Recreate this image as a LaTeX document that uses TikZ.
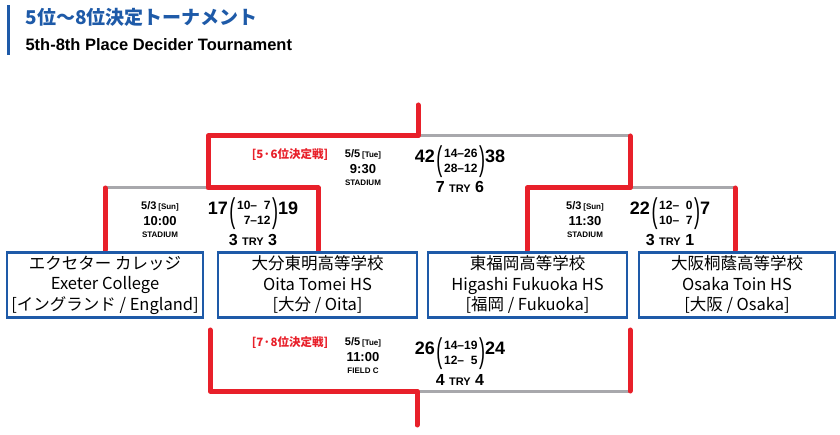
\documentclass[tikz,border=0pt]{standalone}
\usepackage{fontspec}
\setmainfont{Liberation Sans}
\newfontfamily\jp{Noto Sans CJK JP}
\definecolor{tblue}{HTML}{1E5AA8}
\definecolor{tred}{HTML}{E8202A}
\definecolor{tgray}{HTML}{A8A8AC}
\newcommand{\scr}[4]{{\fontsize{18}{18}\selectfont\bfseries #1}\,\raisebox{-0.35\height}{\scalebox{1}[1.9]{\fontsize{18}{18}\selectfont (}}\,\raisebox{-0.5ex}{\fontsize{12}{15}\selectfont\bfseries\begin{tabular}{@{}c@{}}#2\\#3\end{tabular}}\,\raisebox{-0.35\height}{\scalebox{1}[1.9]{\fontsize{18}{18}\selectfont )}}{\fontsize{18}{18}\selectfont\bfseries #4}}
\begin{document}
\begin{tikzpicture}[x=1pt,y=-1pt,
  team/.style={draw=tblue,line width=2.6pt,fill=white,minimum width=196pt,minimum height=65pt,inner sep=0pt,align=center,font=\jp\fontsize{16.5}{20.5}\selectfont},
  win/.style={draw=tred,line width=5pt,line cap=round,line join=round},
  lose/.style={draw=tgray,line width=3pt},
  small/.style={font=\bfseries\fontsize{11}{11}\selectfont},
  tm/.style={font=\bfseries\fontsize{13}{13}\selectfont},
  tiny/.style={font=\bfseries\fontsize{8}{9}\selectfont},
  tr/.style={font=\bfseries\fontsize{16}{17}\selectfont},
  lab/.style={text=tred,font=\jp\bfseries\fontsize{11.5}{12}\selectfont}]
\useasboundingbox (0,0) rectangle (840,435);
\fill[tblue] (7,5) rectangle (10,55);
\node[anchor=west,text=tblue,font=\jp\bfseries\fontsize{19}{21}\selectfont] (t1) at (22,17) {5位〜8位決定トーナメント};
\node[anchor=west,font=\bfseries\fontsize{16.5}{18}\selectfont] (t2) at (22,45) {5th-8th Place Decider Tournament};
% connectors
\coordinate (c1) at (105,188); \coordinate (c2) at (208,188); \coordinate (c3) at (318,188);
\coordinate (c4) at (208,136); \coordinate (c5) at (418,136); \coordinate (c6) at (418,105);
\coordinate (c7) at (630,136); \coordinate (c8) at (630,188); \coordinate (c9) at (527,188);
\coordinate (c10) at (735,188);
\coordinate (d1) at (210,330); \coordinate (d2) at (210,391); \coordinate (d3) at (417,391);
\coordinate (d4) at (417,425); \coordinate (d5) at (630,391); \coordinate (d6) at (630,330);
\draw[lose] (c1) -- (c2); \draw[lose] (c5) -- (c7); \draw[lose] (c8) -- (c10); \draw[lose] (d3) -- (d5);
\draw[win] (c1) -- (105,250);
\draw[win] (318,250) -- (c3) -- (c2) -- (c4) -- (c5) -- (c6);
\draw[win] (527,250) -- (c9) -- (c8) -- (c7);
\draw[win] (c10) -- (735,250);
\draw[win] (d1) -- (d2) -- (d3) -- (d4);
\draw[win] (d6) -- (d5);
% teams
\node[team] (a) at (105,285) {エクセター カレッジ\\Exeter College\\{}[イングランド / England]};
\node[team,minimum width=199pt] (b) at (317.5,285) {大分東明高等学校\\Oita Tomei HS\\{}[大分 / Oita]};
\node[team,minimum width=199pt] (c) at (527.5,285) {東福岡高等学校\\Higashi Fukuoka HS\\{}[福岡 / Fukuoka]};
\node[team] (d) at (737,285) {大阪桐蔭高等学校\\Osaka Toin HS\\{}[大阪 / Osaka]};
% 5-6
\node[lab] (l56) at (290,155) {[5·6位決定戦]};
\node[small] (m1) at (363,154) {5/5\,{\fontsize{8}{9}\selectfont[Tue]}};
\node[tm] (h1) at (363,169) {9:30};
\node[tiny] (s1) at (363,183) {STADIUM};
\node (r1) at (460,162) {\scr{42}{14–26}{28–12}{38}};
\node[tr] (y1) at (460,187) {7 {\fontsize{11}{12}\selectfont TRY} 6};
% left
\node[small] (m2) at (160,206) {5/3\,{\fontsize{8}{9}\selectfont[Sun]}};
\node[tm] (h2) at (160,221) {10:00};
\node[tiny] (s2) at (160,235) {STADIUM};
\node (r2) at (253,214) {\scr{17}{10–\phantom{0}7}{\phantom{0}7–12}{19}};
\node[tr] (y2) at (253,240) {3 {\fontsize{11}{12}\selectfont TRY} 3};
% right
\node[small] (m3) at (585,206) {5/3\,{\fontsize{8}{9}\selectfont[Sun]}};
\node[tm] (h3) at (585,221) {11:30};
\node[tiny] (s3) at (585,235) {STADIUM};
\node (r3) at (670,214) {\scr{22}{12–\phantom{0}0}{10–\phantom{0}7}{7}};
\node[tr] (y3) at (670,240) {3 {\fontsize{11}{12}\selectfont TRY} 1};
% 7-8
\node[lab] (l78) at (290,343) {[7·8位決定戦]};
\node[small] (m4) at (363,342) {5/5\,{\fontsize{8}{9}\selectfont[Tue]}};
\node[tm] (h4) at (363,357) {11:00};
\node[tiny] (s4) at (363,371) {FIELD C};
\node (r4) at (460,354) {\scr{26}{14–19}{12–\phantom{0}5}{24}};
\node[tr] (y4) at (460,380) {4 {\fontsize{11}{12}\selectfont TRY} 4};
\end{tikzpicture}
\end{document}
